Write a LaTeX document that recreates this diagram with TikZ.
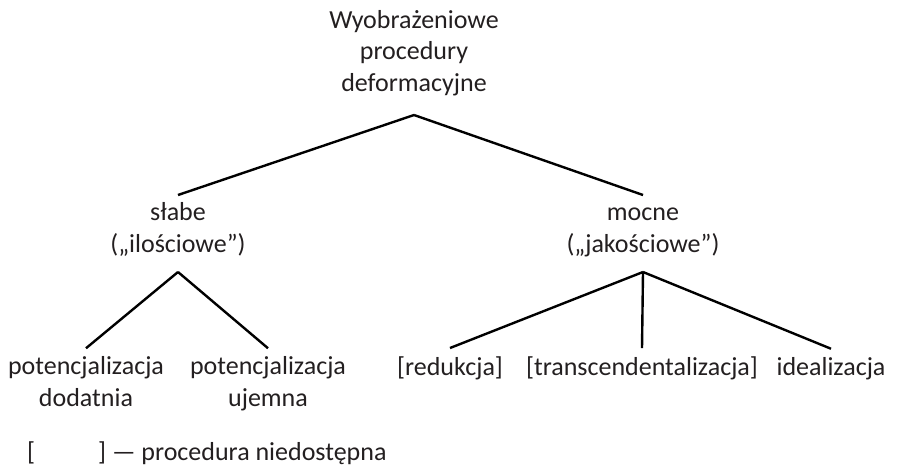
\documentclass[tikz,border=0pt]{standalone}
\usepackage{fontspec}
\setmainfont{Carlito}
\usetikzlibrary{positioning}
\definecolor{inkgray}{RGB}{35, 31, 32}

\begin{document}
\begin{tikzpicture}[x=1pt, y=-1pt,
    term/.style={text=inkgray, align=center, inner sep=0pt, anchor=base, font=\fontsize{26}{31.5}\selectfont},
    branch/.style={line width=2.4pt, black}]
  \useasboundingbox (0,0) rectangle (904,467);
  % root and the two kinds (placed by the baseline of the last line)
  \node[term] (root) at (414, 91) {Wyobrażeniowe\\procedury\\deformacyjne};
  \node[term] (weak) at (178, 252) {słabe\\(„ilościowe”)};
  \node[term] (strong) at (643, 252) {mocne\\(„jakościowe")};
  % leaves
  \node[term] (posit) at (86, 406) {potencjalizacja\\dodatnia};
  \node[term] (negat) at (268, 406) {potencjalizacja\\ujemna};
  \node[term] (reduct) at (450, 375) {[redukcja]};
  \node[term] (transc) at (642, 375) {[transcendentalizacja]};
  \node[term] (ideal) at (831, 375) {idealizacja};
  \node[term, anchor=base west] (legend) at (27, 460) {[\hspace{63pt}] — procedura niedostępna};
  % connectors
  \draw[branch] ([yshift=-24pt]root.base) -- ([yshift=57pt]weak.base);
  \draw[branch] ([yshift=-24pt]root.base) -- ([yshift=57pt]strong.base);
  \draw[branch] ([yshift=-20pt]weak.base) -- ([yshift=8pt]posit.north);
  \draw[branch] ([yshift=-20pt]weak.base) -- ([yshift=8pt]negat.north);
  \draw[branch] ([yshift=-20pt]strong.base) -- ([yshift=8pt]reduct.north);
  \draw[branch] ([yshift=-20pt]strong.base) -- ([yshift=8pt]transc.north);
  \draw[branch] ([yshift=-20pt]strong.base) -- ([yshift=8pt]ideal.north);
\end{tikzpicture}
\end{document}
